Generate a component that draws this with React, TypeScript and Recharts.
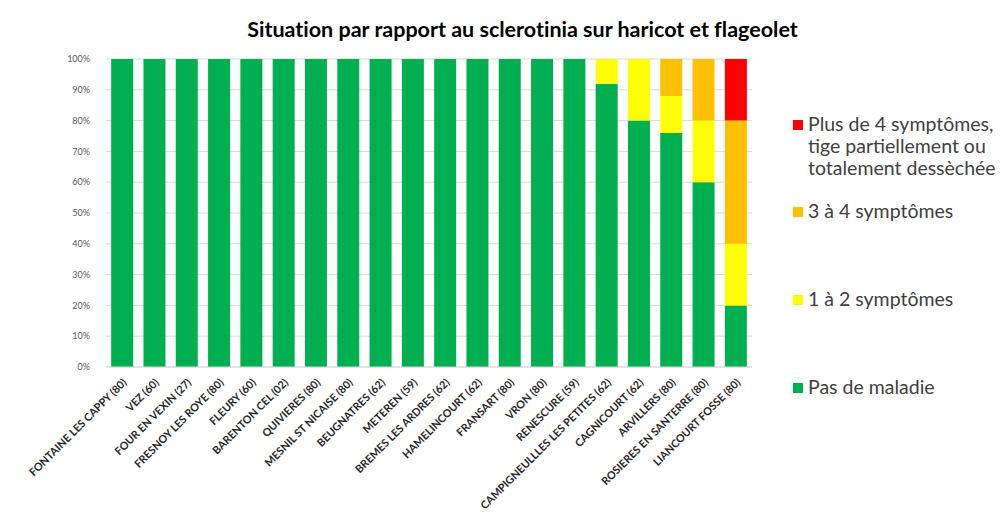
import React from 'react';
import { BarChart, Bar, XAxis, YAxis, CartesianGrid } from 'recharts';

const categories = [
  'FONTAINE LES CAPPY (80)', 'VEZ (60)', 'FOUR EN VEXIN (27)', 'FRESNOY LES ROYE (80)', 'FLEURY (60)',
  'BARENTON CEL (02)', 'QUIVIERES (80)', 'MESNIL ST NICAISE (80)', 'BEUGNATRES (62)', 'METEREN (59)',
  'BREMES LES ARDRES (62)', 'HAMELINCOURT (62)', 'FRANSART (80)', 'VRON (80)', 'RENESCURE (59)',
  'CAMPIGNEULLLES LES PETITES (62)', 'CAGNICOURT (62)', 'ARVILLERS (80)', 'ROSIERES EN SANTERRE (80)', 'LIANCOURT FOSSE (80)',
];
const pasDeMaladie = [100, 100, 100, 100, 100, 100, 100, 100, 100, 100, 100, 100, 100, 100, 100, 92, 80, 76, 60, 20];
const unADeux = [0, 0, 0, 0, 0, 0, 0, 0, 0, 0, 0, 0, 0, 0, 0, 8, 20, 12, 20, 20];
const troisAQuatre = [0, 0, 0, 0, 0, 0, 0, 0, 0, 0, 0, 0, 0, 0, 0, 0, 0, 12, 20, 40];
const plusDe4 = [0, 0, 0, 0, 0, 0, 0, 0, 0, 0, 0, 0, 0, 0, 0, 0, 0, 0, 0, 20];
const yTicks = [0, 10, 20, 30, 40, 50, 60, 70, 80, 90, 100];

const title = 'Situation par rapport au sclerotinia sur haricot et flageolet';
const seriesNames = ['Pas de maladie', '1 à 2 symptômes', '3 à 4 symptômes', 'Plus de 4 symptômes, tige partiellement ou totalement dessèchée'];
const seriesKeys = ['a', 'b', 'c', 'd'];
const seriesColors = ['#00B050', '#FFFF00', '#FFC000', '#FF0000'];

const data = categories.map((name, i) => ({
  name,
  a: pasDeMaladie[i],
  b: unADeux[i],
  c: troisAQuatre[i],
  d: plusDe4[i],
}));

const FONT = 'Lato, "Open Sans", sans-serif';

const XTick = (props: any) => {
  const { x, y, payload } = props;
  return (
    <g transform={`translate(${x + 2},${y + 5})`}>
      <text
        transform="rotate(-45)"
        textAnchor="end"
        dominantBaseline="central"
        fontFamily={FONT}
        fontWeight={700}
        fontSize={10.8}
        fill="#262626"
      >
        {payload.value}
      </text>
    </g>
  );
};

const legendLines = [
  ['Plus de 4 symptômes,', 'tige partiellement ou', 'totalement dessèchée'],
  ['3 à 4 symptômes'],
  ['1 à 2 symptômes'],
  ['Pas de maladie'],
];
const legendColors = ['#FF0000', '#FFC000', '#FFFF00', '#00B050'];
const legendTops = [0, 87, 175, 263];

export default function App() {
  return (
    <div style={{ position: 'absolute', left: 0, top: 0, width: 1005, height: 515, background: '#fff' }}>
      <div
        style={{
          position: 'absolute',
          top: 16,
          left: 0,
          width: 1005,
          textAlign: 'center',
          paddingLeft: 40,
          boxSizing: 'border-box',
          fontFamily: FONT,
          fontWeight: 700,
          fontSize: 21.5,
          fontVariantLigatures: 'none',
          color: '#000',
        }}
      >
        {title}
      </div>
      <BarChart
        width={1005}
        height={515}
        data={data}
        margin={{ top: 59, right: 253, bottom: 0, left: 0 }}
        barCategoryGap="16%"
      >
        <CartesianGrid vertical={false} stroke="#D9D9D9" />
        <XAxis
          dataKey="name"
          interval={0}
          height={148}
          tick={<XTick />}
          tickLine={false}
          axisLine={{ stroke: '#D9D9D9' }}
        />
        <YAxis
          width={106}
          domain={[0, 100]}
          ticks={yTicks}
          tickFormatter={(v: number) => `${v}%`}
          axisLine={false}
          tickLine={false}
          tick={{ fontSize: 9, fill: '#595959', fontFamily: FONT }}
          tickMargin={10}
        />
        {seriesKeys.map((k, i) => (
          <Bar key={k} dataKey={k} name={seriesNames[i]} stackId="s" fill={seriesColors[i]} isAnimationActive={false} />
        ))}
      </BarChart>
      <div style={{ position: 'absolute', left: 793, top: 113, width: 212, height: 290, fontFamily: FONT }}>
        {legendLines.map((lines, i) => (
          <div key={i} style={{ position: 'absolute', top: legendTops[i], left: 0, display: 'flex' }}>
            <div style={{ width: 10, height: 10, background: legendColors[i], marginTop: 7, marginRight: 5, flexShrink: 0 }} />
            <div style={{ fontSize: 19.5, lineHeight: '22px', color: '#404040', whiteSpace: 'nowrap' }}>
              {lines.map((l, j) => (
                <div key={j}>{l}</div>
              ))}
            </div>
          </div>
        ))}
      </div>
    </div>
  );
}
